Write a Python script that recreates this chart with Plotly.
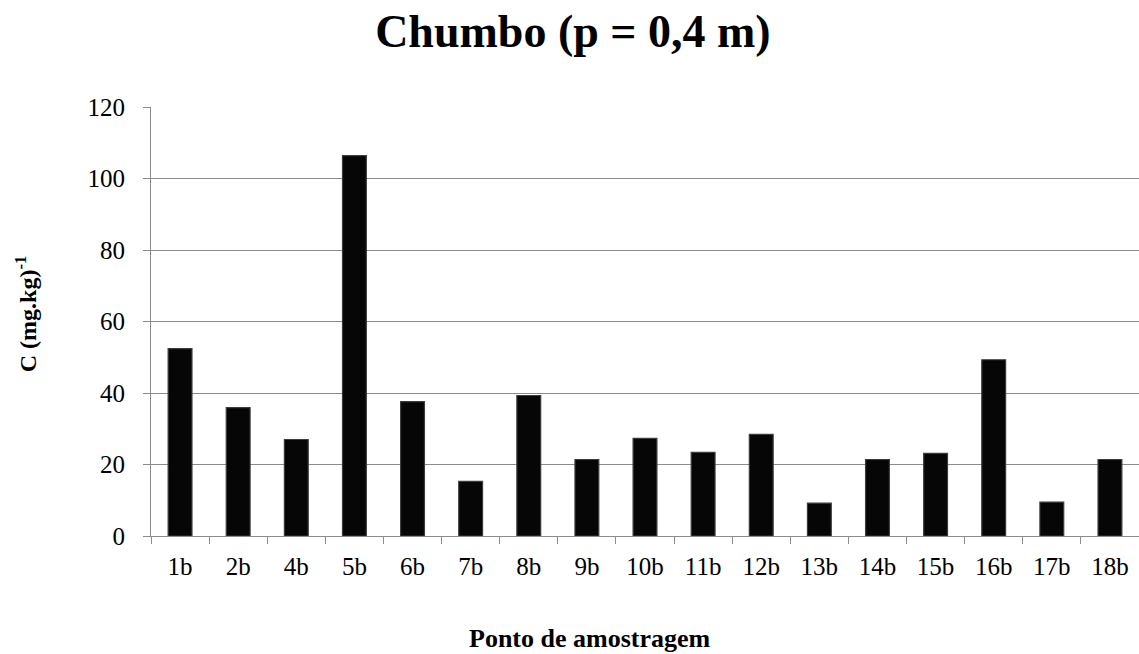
import plotly.graph_objects as go

pontos = ["1b", "2b", "4b", "5b", "6b", "7b", "8b", "9b", "10b", "11b",
          "12b", "13b", "14b", "15b", "16b", "17b", "18b"]
chumbo = [52.4, 35.9, 27.0, 106.4, 37.6, 15.3, 39.3, 21.4, 27.3, 23.4,
          28.4, 9.2, 21.4, 23.1, 49.3, 9.5, 21.4]

serif = "Liberation Serif, Times New Roman, serif"
grey = "#8c8c8c"

fig = go.Figure(
    go.Bar(
        x=pontos,
        y=chumbo,
        width=0.41,
        marker=dict(color="#060606", line=dict(color="#3c3c3c", width=1.2)),
    )
)

fig.update_layout(
    width=1139,
    height=654,
    margin=dict(l=151, r=0, t=107, b=118),
    paper_bgcolor="white",
    plot_bgcolor="white",
    showlegend=False,
    title=dict(
        text="<b>Chumbo (p = 0,4 m)</b>",
        xref="container",
        x=0.503,
        xanchor="center",
        yref="container",
        y=0.952,
        yanchor="middle",
        font=dict(family=serif, size=46, color="black"),
    ),
    font=dict(family=serif, color="black"),
    annotations=[
        dict(
            text="<b>Ponto de amostragem</b>",
            xref="paper", yref="paper",
            x=0.444, y=-0.24,
            xanchor="center", yanchor="middle",
            showarrow=False,
            font=dict(family=serif, size=26, color="black"),
        ),
        dict(
            text="<b>C (mg.kg)<sup>-1</sup></b>",
            xref="paper", yref="paper",
            x=-0.1265, y=0.517,
            xanchor="center", yanchor="middle",
            textangle=-90,
            showarrow=False,
            font=dict(family=serif, size=24, color="black"),
        ),
    ],
)

fig.update_xaxes(
    type="category",
    tickson="boundaries",
    ticks="outside",
    ticklen=7,
    tickcolor=grey,
    showline=True,
    linecolor=grey,
    linewidth=1,
    ticklabelstandoff=8,
    tickfont=dict(family=serif, size=25, color="black"),
)

fig.update_yaxes(
    range=[0, 120],
    dtick=20,
    showgrid=True,
    gridcolor=grey,
    gridwidth=1,
    ticks="outside",
    ticklen=7,
    tickcolor=grey,
    showline=True,
    linecolor=grey,
    linewidth=1,
    zeroline=False,
    ticklabelstandoff=13,
    tickfont=dict(family=serif, size=25, color="black"),
)

fig.write_html("out.html")
